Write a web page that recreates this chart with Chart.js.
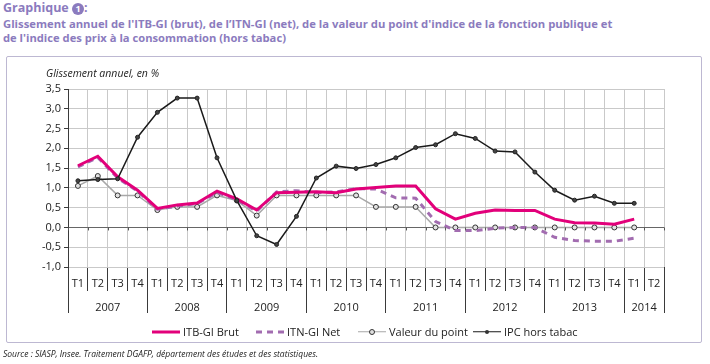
<!DOCTYPE html>
<html>
<head>
<meta charset="utf-8">
<script src="https://cdn.jsdelivr.net/npm/chart.js@4.4.1/dist/chart.umd.min.js"></script>
<style>
  body { margin: 0; background: #fff; font-family: 'Open Sans', sans-serif; }
  #wrap { position: relative; width: 710px; height: 364px; overflow: hidden; }
  .title { position: absolute; left: 3px; color: #8B7BBE; font-weight: bold; font-size: 11px;
           line-height: 15px; white-space: nowrap; transform-origin: 0 0; }
  .num { display: inline-block; width: 12px; height: 12px; border-radius: 50%; background: #8B7BBE;
         color: #fff; font-size: 9px; line-height: 12px; text-align: center; vertical-align: 0px; }
  #frame { position: absolute; left: 6px; top: 56px; width: 696px; height: 287px; box-sizing: border-box;
           border: 1.5px solid #BDB8D2; border-radius: 2px; }
  canvas { position: absolute; left: 0; top: 0; }
  #ytitle { position: absolute; left: 46px; top: 66px; font-style: italic; font-size: 10.5px; color: #222; }
  .item { position: absolute; top: 324px; display: flex; align-items: center; gap: 3px;
          font-size: 11px; color: #222; white-space: nowrap; }
  .sw { position: relative; width: 28px; height: 10px; }
  .sw .ln { position: absolute; left: 0; right: 0; top: 50%; transform: translateY(-50%); }
  .sw .dot { position: absolute; left: 50%; top: 50%; transform: translate(-50%, -50%); border-radius: 50%; }
  #source { position: absolute; left: 3px; top: 347px; font-style: italic; font-size: 9px; color: #222;
            white-space: nowrap; transform-origin: 0 0; }
</style>
</head>
<body>
<div id="wrap">
  <div class="title" style="top:0px;font-size:12.5px">Graphique <span class="num">1</span>:</div>
  <div class="title fit" data-w="609" style="top:16px">Glissement annuel de l'ITB-GI (brut), de l’ITN-GI (net), de la valeur du point d'indice de la fonction publique et</div>
  <div class="title fit" data-w="283" style="top:30px">de l'indice des prix à la consommation (hors tabac)</div>
  <div id="frame"></div>
  <canvas id="chart" width="710" height="364"></canvas>
  <div id="ytitle">Glissement annuel, en %</div>
  <div class="item" style="left:152px"><div class="sw"><div class="ln" style="height:3px;background:#E2007A"></div></div>ITB-GI Brut</div>
  <div class="item" style="left:256px"><div class="sw"><div class="ln" style="height:3px;background:repeating-linear-gradient(90deg,#A26CB0 0 6px,transparent 6px 11px)"></div></div>ITN-GI Net</div>
  <div class="item" style="left:358px"><div class="sw"><div class="ln" style="height:1.5px;background:#A8A8A8"></div><div class="dot" style="width:4px;height:4px;border:1px solid #333;background:#E0E0E0"></div></div>Valeur du point</div>
  <div class="item" style="left:473px"><div class="sw"><div class="ln" style="height:1.5px;background:#1A1A1A"></div><div class="dot" style="width:4px;height:4px;background:#333"></div></div>IPC hors tabac</div>
  <div id="source" class="fit" data-w="315">Source : SIASP, Insee. Traitement DGAFP, département des études et des statistiques.</div>
</div>
<script>
// quarters 2007 T1 .. 2014 T2
const quarters = [
  'T1','T2','T3','T4', 'T1','T2','T3','T4', 'T1','T2','T3','T4', 'T1','T2','T3','T4',
  'T1','T2','T3','T4', 'T1','T2','T3','T4', 'T1','T2','T3','T4', 'T1','T2'
];
const years = ['2007','2008','2009','2010','2011','2012','2013','2014'];
const quartersPerYear = [4, 4, 4, 4, 4, 4, 4, 2];
const yTicks = [-1, -0.5, 0, 0.5, 1, 1.5, 2, 2.5, 3, 3.5];

const itbBrut = [
  1.56, 1.80, 1.28, 0.94,  0.48, 0.57, 0.62, 0.92,  0.72, 0.44, 0.88, 0.89,
  0.90, 0.88, 0.97, 1.01,  1.05, 1.05, 0.47, 0.21,  0.36, 0.44, 0.43, 0.43,
  0.21, 0.12, 0.11, 0.08,  0.21, null
];
const itnNet = [
  1.53, 1.77, 1.25, 0.92,  0.46, 0.54, 0.60, 0.88,  0.70, 0.41, 0.90, 0.93,
  0.88, 0.90, 0.98, 0.97,  0.75, 0.74, 0.15, -0.08, -0.08, -0.02, 0.00, 0.00,
  -0.25, -0.33, -0.35, -0.35, -0.27, null
];
const valeurPoint = [
  1.05, 1.30, 0.81, 0.81,  0.44, 0.52, 0.52, 0.81,  0.68, 0.30, 0.81, 0.81,
  0.81, 0.81, 0.81, 0.52,  0.52, 0.52, 0.00, 0.00,  0.00, 0.00, 0.00, 0.00,
  0.00, 0.00, 0.00, 0.00,  0.00, null
];
const ipcHorsTabac = [
  1.18, 1.21, 1.23, 2.28,  2.91, 3.27, 3.27, 1.76,  0.68, -0.21, -0.43, 0.28,
  1.25, 1.55, 1.49, 1.59,  1.76, 2.02, 2.09, 2.37,  2.25, 1.93, 1.91, 1.40,
  0.94, 0.69, 0.79, 0.61,  0.61, null
];

// squeeze the long text lines to the width they take in the original
document.querySelectorAll('.fit').forEach((el) => {
  el.style.transform = `scaleX(${el.dataset.w / el.scrollWidth})`;
});

// year axis: separators at year boundaries, labels in the middle of each year
const yearTicks = [];
let start = -0.5;
years.forEach((y, k) => {
  yearTicks.push({ value: start, label: '' });
  yearTicks.push({ value: start + quartersPerYear[k] / 2, label: y });
  start += quartersPerYear[k];
});
yearTicks.push({ value: start, label: '' });

const axisDark = '#3A3A3A';
const gridLight = '#C9C9C9';

// small tick marks hanging under the zero line
const zeroTicks = {
  id: 'zeroTicks',
  afterDatasetsDraw(chart) {
    const { ctx, scales: { x, y } } = chart;
    const y0 = y.getPixelForValue(0);
    ctx.save();
    ctx.strokeStyle = '#555';
    ctx.lineWidth = 1;
    ctx.beginPath();
    for (let i = 0; i <= quarters.length; i++) {
      const px = Math.round(x.getPixelForValue(i - 0.5)) + 0.5;
      ctx.moveTo(px, y0);
      ctx.lineTo(px, y0 + 3);
    }
    ctx.stroke();
    ctx.restore();
  },
};

new Chart(document.getElementById('chart'), {
  type: 'line',
  data: {
    labels: quarters,
    datasets: [
      {
        label: 'IPC hors tabac', data: ipcHorsTabac, order: 0,
        borderColor: '#1A1A1A', borderWidth: 1.5,
        pointRadius: 2, pointBackgroundColor: '#444', pointBorderColor: '#222', pointBorderWidth: 1,
      },
      {
        label: 'ITB-GI Brut', data: itbBrut, order: 1,
        borderColor: '#E2007A', borderWidth: 3, pointRadius: 0,
      },
      {
        label: 'ITN-GI Net', data: itnNet, order: 2,
        borderColor: '#A26CB0', borderWidth: 3, borderDash: [6, 5], pointRadius: 0,
      },
      {
        label: 'Valeur du point', data: valeurPoint, order: 3,
        borderColor: '#A8A8A8', borderWidth: 1.5,
        pointRadius: 2.5, pointBackgroundColor: '#E2E2E2', pointBorderColor: '#333', pointBorderWidth: 1,
      },
    ],
  },
  options: {
    responsive: false,
    devicePixelRatio: 1,
    animation: false,
    layout: { padding: { left: 0, right: 46, top: 89, bottom: 51 } },
    plugins: { legend: { display: false }, tooltip: { enabled: false } },
    scales: {
      x: {
        type: 'category',
        offset: true,
        grid: { offset: true, color: gridLight, tickLength: 24, tickColor: axisDark },
        border: { display: false },
        ticks: { autoSkip: false, maxRotation: 0, padding: -14, color: '#222',
                 font: { family: 'Open Sans', size: 11 } },
        afterFit: (scale) => { scale.height = 24; },
      },
      x2: {
        type: 'linear',
        position: 'bottom',
        min: -0.5,
        max: quarters.length - 0.5,
        afterBuildTicks: (scale) => { scale.ticks = yearTicks.map((t) => ({ value: t.value })); },
        grid: {
          drawOnChartArea: false, tickLength: 22,
          tickColor: (ctx) => (yearTicks[ctx.index] && yearTicks[ctx.index].label ? 'transparent' : axisDark),
        },
        border: { display: false },
        ticks: {
          autoSkip: false, maxRotation: 0, padding: -12, color: '#222',
          font: { family: 'Open Sans', size: 11 },
          callback: (value, i) => (yearTicks[i] ? yearTicks[i].label : ''),
        },
        afterFit: (scale) => { scale.height = 22; },
      },
      y: {
        min: yTicks[0],
        max: yTicks[yTicks.length - 1],
        afterBuildTicks: (scale) => { scale.ticks = yTicks.map((v) => ({ value: v })); },
        grid: {
          color: (ctx) => (ctx.tick && ctx.tick.value === 0 ? '#666' : gridLight),
          tickLength: 4, tickColor: axisDark,
        },
        border: { display: true, color: axisDark },
        ticks: {
          padding: 3, color: '#222', font: { family: 'Open Sans', size: 11 },
          callback: (value) => value.toFixed(1).replace('.', ','),
        },
        afterFit: (scale) => { scale.width = 68; },
      },
    },
  },
  plugins: [zeroTicks],
});
</script>
</body>
</html>
